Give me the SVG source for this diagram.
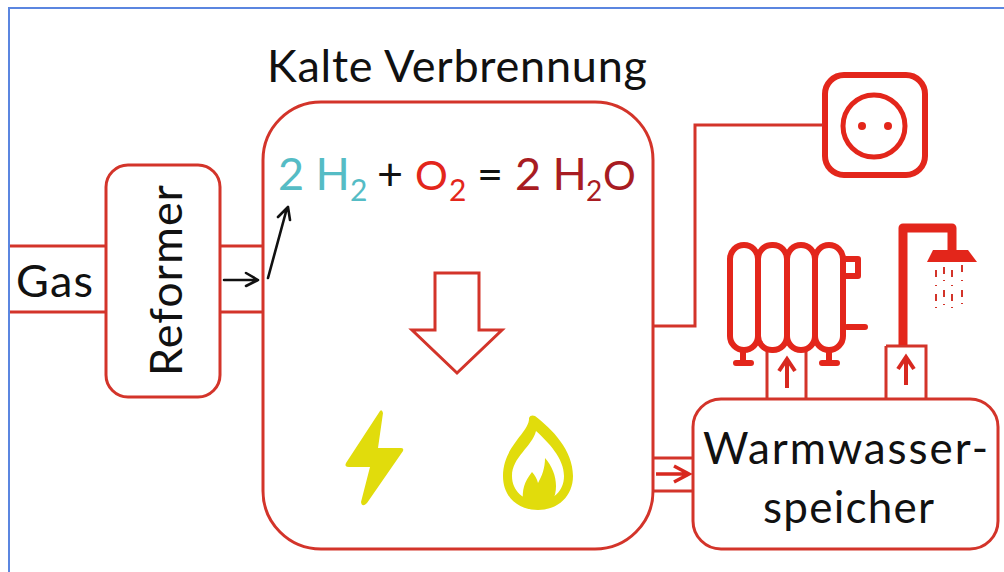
<svg xmlns="http://www.w3.org/2000/svg" width="1004" height="572" viewBox="0 0 1004 572">
<style>
.box{fill:#fff;stroke:#d3342a;stroke-width:3}
.line{fill:none;stroke:#d3342a;stroke-width:3}
.ic{fill:none;stroke:#e3261b;stroke-width:6;stroke-linecap:round;stroke-linejoin:round}
.red{fill:#e3261b}
.ylw{fill:#e1dc0c}
.ar{fill:none;stroke:#111;stroke-width:2.6;stroke-linecap:round;stroke-linejoin:round}
.rar{fill:none;stroke:#d8281f;stroke-width:3.5}
text{font-family:Lato,"Open Sans",sans-serif;fill:#111}
</style>
<rect x="9" y="8" width="1100" height="600" fill="#fff" stroke="#5b86e0" stroke-width="2"/>
<g id="gas"><text x="16" y="297" font-size="45" textLength="77">Gas</text></g>
<g id="reformer">
<rect class="box" x="106" y="165" width="114" height="232" rx="22"/>
<text transform="translate(182 376) rotate(-90)" font-size="45" textLength="191">Reformer</text>
</g>
<g id="fuelcell">
<text x="267" y="82" font-size="45" textLength="380">Kalte Verbrennung</text>
<rect class="box" x="263" y="102" width="390" height="447" rx="58"/>
<text x="278" y="190" font-size="45" style="fill:#55bcc5">2 H</text>
<text x="350" y="201" font-size="30" style="fill:#55bcc5">2</text>
<text x="377" y="190" font-size="45">+</text>
<text x="415" y="190" font-size="41" style="fill:#e3261b">O</text>
<text x="449" y="201" font-size="30" style="fill:#e3261b">2</text>
<text x="477" y="190" font-size="45">=</text>
<text x="515" y="190" font-size="45" style="fill:#a81c22">2 H</text>
<text x="586" y="201" font-size="28" style="fill:#a81c22">2</text>
<text x="603" y="190" font-size="41" style="fill:#a81c22">O</text>
<path d="M435 273H479V330H502L457 373L412 330H435Z" fill="#fff" stroke="#d3342a" stroke-width="3"/>
<path class="ylw" d="M380 411L346 463Q344 467 349 467H370L361 502Q362 508 367 503L403 451Q404 448 401 448H378L383 413Q382 409 380 411Z"/>
<path class="ylw" fill-rule="evenodd" d="M535 416C533 415 530 415 529 418C530 432 503 446 503 476C503 497 518 510 538 510C558 510 573 496 573 476C573 450 552 429 535 416ZM536 431C548 442 564 458 564 476C564 491 553 501 538 501C524 501 512 491 512 476C512 457 532 447 536 431Z"/>
<path class="ylw" d="M523 502C522 490 524 482 532 472C535 475 537 479 538 483C542 476 545 468 545 458C552 466 556 476 556 486C556 491 555 497 552 502Z"/>
</g>
<g id="socket">
<rect x="825" y="75" width="100" height="100" rx="19" fill="#fff" stroke="#e3261b" stroke-width="6"/>
<circle cx="874" cy="126" r="31" fill="none" stroke="#e3261b" stroke-width="5"/>
<circle class="red" cx="862" cy="126" r="4"/>
<circle class="red" cx="888" cy="126" r="4"/>
</g>
<g id="storage">
<rect class="box" x="693" y="399" width="305" height="150" rx="28"/>
<text x="703" y="464" font-size="44" textLength="285">Warmwasser-</text>
<text x="763" y="523" font-size="44" textLength="171">speicher</text>
</g>
<g id="connectors">
<path class="line" d="M10 246H107M10 312H107M220 246H263M220 312H263"/>
<path class="line" d="M653 326H695V125H823"/>
<path class="line" d="M653 458H693M653 491H693"/>
<path class="line" d="M767 350V399M806 350V399M886 346H926V399M886 346V399"/>
<path class="ar" d="M224 280H258M246 273L258 280L246 286"/>
<path class="ar" d="M268 278L287 208M278 217L288 207L290 220"/>
<path class="rar" d="M656 474H689M674 466L689 474L674 482"/>
<path class="rar" d="M787 388V360M779 371L787 359L795 371M906 385V358M898 369L906 357L914 369" style="stroke-width:4"/>
</g>
<g id="radiator">
<rect class="ic" x="730" y="245" width="28" height="105" rx="14"/>
<rect class="ic" x="758" y="245" width="29" height="105" rx="14"/>
<rect class="ic" x="787" y="245" width="28" height="105" rx="14"/>
<rect class="ic" x="815" y="245" width="28" height="105" rx="14"/>
<path class="ic" d="M846 259H858V276H846M847 327H865M743 352V363M736 363H751M829 352V363M822 363H837"/>
</g>
<g id="shower">
<path class="ic" d="M903 345V228H952V250" style="stroke-width:9;stroke-linecap:butt"/>
<path class="red" d="M933 250H968L977 262H927Z"/>
<path d="M936 270v7M944 267v7M952 270v7M962 265v7M936 285v1M944 280v1M952 285v1M962 280v1M936 294v7M944 290v7M952 294v7M962 290v7M936 307v1M944 304v1M952 307v1M962 303v1" fill="none" stroke="#d3342a" stroke-width="2"/>
</g>
</svg>
